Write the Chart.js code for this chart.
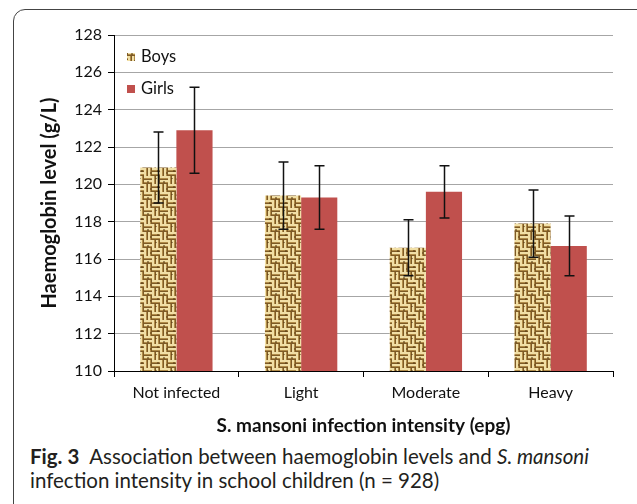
<!DOCTYPE html>
<html>
<head>
<meta charset="utf-8">
<script src="https://cdn.jsdelivr.net/npm/chart.js@4.4.1/dist/chart.umd.min.js"></script>
<style>
  html, body { margin:0; padding:0; background:#fff; }
  body { width:637px; height:504px; position:relative; overflow:hidden; }
  #frame { position:absolute; left:13px; top:9px; width:640px; height:520px; border:1px solid #444; border-radius:12px; box-sizing:border-box; }
  #wrap { position:absolute; left:0; top:0; width:637px; height:440px; }
  #caption { position:absolute; left:30px; top:444px; font-family: Lato, "Open Sans", sans-serif; font-size:20.5px; line-height:24px; color:#231f20; white-space:nowrap; }
  #caption b { font-weight:700; }
</style>
</head>
<body>
<div id="frame"></div>
<div id="wrap"><canvas id="c" width="637" height="440"></canvas></div>
<div id="caption"><b>Fig. 3</b>&nbsp; Association between haemoglobin levels and <i>S. mansoni</i><br>infection intensity in school children (n = 928)</div>
<script>
const categories = ["Not infected", "Light", "Moderate", "Heavy"];
const boysMean = [120.9, 119.4, 116.6, 117.9];
const boysErr  = [1.9, 1.8, 1.5, 1.8];
const girlsMean = [122.9, 119.3, 119.6, 116.7];
const girlsErr  = [2.3, 1.7, 1.4, 1.6];
const seriesNames = ["Boys", "Girls"];
const yTicks = [110, 112, 114, 116, 118, 120, 122, 124, 126, 128];

function makePattern() {
  const p = document.createElement('canvas');
  p.width = 16; p.height = 16;
  const g = p.getContext('2d');
  g.fillStyle = '#d6b776'; g.fillRect(0,0,16,16);
  const light = '#f1dfa6', dark = '#7d5a26', mid = '#b08b48';
  for (const [cx, cy] of [[0,0],[8,8]]) {
    for (let r = 0; r < 8; r += 4) {
      g.fillStyle = light; g.fillRect(cx, cy + r, 8, 2);
      g.fillStyle = mid; g.fillRect(cx, cy + r + 2, 8, 1);
      g.fillStyle = dark; g.fillRect(cx, cy + r + 3, 8, 1);
    }
  }
  for (const [cx, cy] of [[8,0],[0,8]]) {
    for (let c = 0; c < 8; c += 4) {
      g.fillStyle = light; g.fillRect(cx + c, cy, 2, 8);
      g.fillStyle = mid; g.fillRect(cx + c + 2, cy, 1, 8);
      g.fillStyle = dark; g.fillRect(cx + c + 3, cy, 1, 8);
    }
  }
  // a few mottled spots for a burlap feel
  g.fillStyle = 'rgba(90,60,20,0.55)';
  g.fillRect(3, 5, 2, 2); g.fillRect(11, 2, 2, 1); g.fillRect(6, 12, 1, 2); g.fillRect(13, 10, 2, 2);
  return document.getElementById('c').getContext('2d').createPattern(p, 'repeat');
}
const boysFill = makePattern();
const girlsFill = '#c0504d';
const FONT = 'Lato, "Open Sans", sans-serif';

const errorBars = {
  id: 'errorBars',
  afterDatasetsDraw(chart) {
    const ctx = chart.ctx;
    const ys = chart.scales.y;
    const errs = [boysErr, girlsErr];
    ctx.save();
    ctx.strokeStyle = '#111';
    ctx.lineWidth = 1.5;
    chart.data.datasets.forEach((ds, di) => {
      const meta = chart.getDatasetMeta(di);
      meta.data.forEach((el, i) => {
        const v = ds.data[i], e = errs[di][i];
        const yHi = ys.getPixelForValue(v + e);
        const yLo = ys.getPixelForValue(v - e);
        const x = Math.round(el.x) + 0.5;
        ctx.beginPath();
        ctx.moveTo(x, yHi); ctx.lineTo(x, yLo);
        ctx.moveTo(x - 5, yHi); ctx.lineTo(x + 5, yHi);
        ctx.moveTo(x - 5, yLo); ctx.lineTo(x + 5, yLo);
        ctx.stroke();
      });
    });
    ctx.restore();
  }
};

const innerLegend = {
  id: 'innerLegend',
  afterDraw(chart) {
    const ctx = chart.ctx;
    const a = chart.chartArea;
    const fills = [boysFill, girlsFill];
    ctx.save();
    ctx.font = '16.5px ' + FONT;
    ctx.textBaseline = 'middle';
    seriesNames.forEach((n, i) => {
      const cy = a.top + 22 + i * 32;
      ctx.fillStyle = fills[i];
      ctx.fillRect(a.left + 13, cy - 4, 8, 8);
      ctx.fillStyle = '#111';
      ctx.fillText(n, a.left + 27, cy);
    });
    ctx.restore();
  }
};

new Chart(document.getElementById('c'), {
  type: 'bar',
  data: {
    labels: categories,
    datasets: [
      { label: seriesNames[0], data: boysMean, backgroundColor: boysFill, borderWidth: 0 },
      { label: seriesNames[1], data: girlsMean, backgroundColor: girlsFill, borderWidth: 0 }
    ]
  },
  options: {
    responsive: false,
    devicePixelRatio: 1,
    animation: false,
    layout: { padding: { left: 30, right: 24, top: 35, bottom: 0 } },
    plugins: { legend: { display: false }, tooltip: { enabled: false } },
    datasets: { bar: { categoryPercentage: 0.58, barPercentage: 1.0 } },
    scales: {
      x: {
        grid: { offset: true, drawOnChartArea: false, drawTicks: true, tickLength: 6, tickColor: '#000', color: '#000' },
        border: { color: '#000', width: 1 },
        ticks: { color: '#111', font: { family: FONT, size: 16 }, padding: 6 },
        title: { display: true, text: 'S. mansoni infection intensity (epg)', color: '#111',
                 font: { family: FONT, size: 19, weight: 'bold' }, padding: { top: 0, bottom: 3 } },
        afterFit(s) { s.height = 440 - 371; }
      },
      y: {
        min: 110, max: 128,
        afterBuildTicks(s) { s.ticks = yTicks.map(v => ({ value: v })); },
        grid: { color: '#a6a6a6', lineWidth: 1, drawTicks: true, tickLength: 6, tickColor: '#000' },
        border: { color: '#000', width: 1 },
        ticks: { color: '#111', font: { family: FONT, size: 16 }, padding: 6 },
        title: { display: true, text: 'Haemoglobin level (g/L)', color: '#111',
                 font: { family: FONT, size: 20, weight: 'bold' }, padding: { top: 8, bottom: 0 } },
        afterFit(s) { s.width = 114 - 30; }
      }
    }
  },
  plugins: [errorBars, innerLegend]
});
</script>
</body>
</html>
